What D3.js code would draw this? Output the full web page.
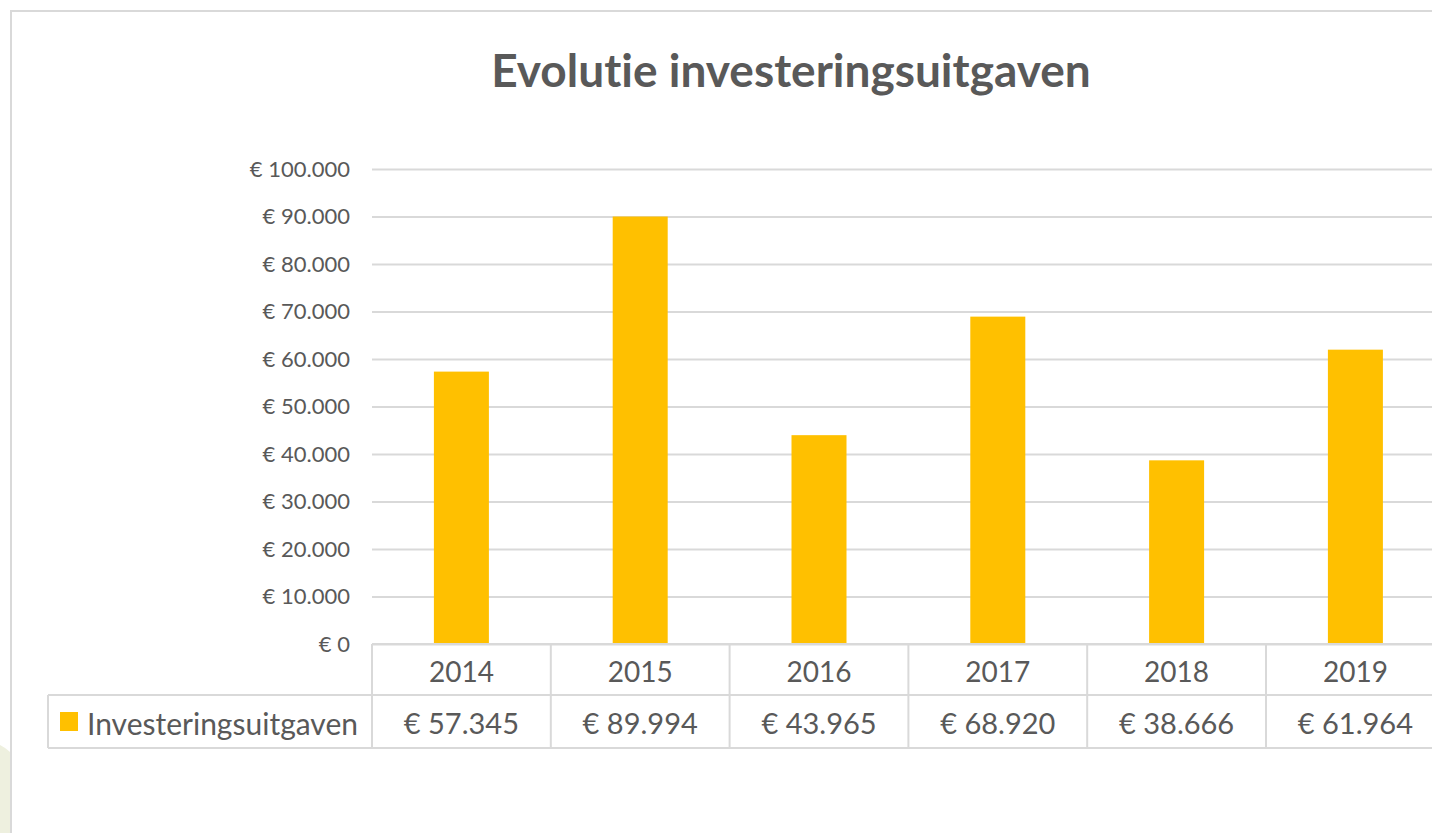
<!DOCTYPE html>
<html>
<head>
<meta charset="utf-8">
<script src="https://cdn.jsdelivr.net/npm/d3@7"></script>
<style>
  body { margin: 0; background: #fff; }
  svg { display: block; font-family: Lato, "Open Sans", sans-serif; font-variant-ligatures: none; }
</style>
</head>
<body>
<div id="chart"></div>
<script>
// data
var years = ["2014", "2015", "2016", "2017", "2018", "2019"];
var values = [57345, 89994, 43965, 68920, 38666, 61964];
var yTicks = [0, 10000, 20000, 30000, 40000, 50000, 60000, 70000, 80000, 90000, 100000];
var seriesName = "Investeringsuitgaven";
var title = "Evolutie investeringsuitgaven";

var W = 1432, H = 833;
var textColor = "#595959", gridColor = "#d9d9d9", barColor = "#ffc000";

var nl = d3.formatLocale({ decimal: ",", thousands: ".", grouping: [3], currency: ["€ ", ""] });
var euro = nl.format("$,.0f");

var svg = d3.select("#chart")
  .append("svg")
    .attr("width", W)
    .attr("height", H);

// bit of background decoration at the bottom left
svg.append("path")
  .attr("d", "M0,745 Q6,748 10,752 L10,833 L0,833 Z")
  .attr("fill", "#eef0df");

// chart frame
svg.append("rect")
  .attr("x", 11).attr("y", 11)
  .attr("width", W + 20).attr("height", H + 20)
  .attr("fill", "#fff")
  .attr("stroke", gridColor)
  .attr("stroke-width", 2);

// scales
var colW = 178.8;
var x = d3.scaleBand()
  .domain(years)
  .range([372, 372 + colW * years.length])
  .paddingInner(0)
  .paddingOuter(0);

var y = d3.scaleLinear()
  .domain([0, 100000])
  .range([644, 169]);

// title
svg.append("text")
  .attr("x", 791)
  .attr("y", 87)
  .attr("text-anchor", "middle")
  .style("font-size", "46px")
  .style("font-weight", "bold")
  .style("fill", textColor)
  .text(title);

// gridlines
svg.append("g")
  .attr("transform", "translate(372,0)")
  .call(d3.axisRight(y).tickValues(yTicks).tickSize(W).tickFormat(""))
  .call(function (g) { g.select(".domain").remove(); })
  .selectAll("line")
    .attr("stroke", gridColor)
    .attr("stroke-width", 2);

// y labels
svg.append("g")
  .attr("transform", "translate(350,0)")
  .call(d3.axisLeft(y).tickValues(yTicks).tickSize(0).tickPadding(0).tickFormat(euro))
  .call(function (g) { g.select(".domain").remove(); })
  .selectAll("text")
    .style("font-family", "Lato, sans-serif")
    .style("font-size", "22px")
    .style("fill", textColor);

// bars
var barW = 55;
svg.append("g")
  .selectAll("rect")
  .data(values)
  .enter()
  .append("rect")
    .attr("x", function (d, i) { return x(years[i]) + x.bandwidth() / 2 - barW / 2; })
    .attr("y", function (d) { return y(d); })
    .attr("width", barW)
    .attr("height", function (d) { return y(0) - y(d); })
    .attr("fill", barColor);

// data table under the axis
var rowTop = 644, rowMid = 695, rowBot = 748, legendLeft = 48;
var table = svg.append("g")
  .attr("stroke", gridColor)
  .attr("stroke-width", 2);

table.append("line").attr("x1", 372).attr("x2", W).attr("y1", rowTop).attr("y2", rowTop);
table.append("line").attr("x1", legendLeft).attr("x2", W).attr("y1", rowMid).attr("y2", rowMid);
table.append("line").attr("x1", legendLeft).attr("x2", W).attr("y1", rowBot).attr("y2", rowBot);
table.append("line").attr("x1", legendLeft).attr("x2", legendLeft).attr("y1", rowMid).attr("y2", rowBot);
table.selectAll(".vline")
  .data(years)
  .enter()
  .append("line")
    .attr("x1", function (d) { return x(d); })
    .attr("x2", function (d) { return x(d); })
    .attr("y1", rowTop)
    .attr("y2", rowBot);

svg.append("g")
  .selectAll("text")
  .data(years)
  .enter()
  .append("text")
    .attr("x", function (d) { return x(d) + x.bandwidth() / 2; })
    .attr("y", (rowTop + rowMid) / 2 + 1)
    .attr("text-anchor", "middle")
    .attr("dominant-baseline", "central")
    .style("font-size", "28px")
    .style("fill", textColor)
    .text(function (d) { return d; });

svg.append("g")
  .selectAll("text")
  .data(values)
  .enter()
  .append("text")
    .attr("x", function (d, i) { return x(years[i]) + x.bandwidth() / 2; })
    .attr("y", (rowMid + rowBot) / 2 + 1)
    .attr("text-anchor", "middle")
    .attr("dominant-baseline", "central")
    .style("font-size", "29px")
    .style("fill", textColor)
    .text(function (d) { return euro(d); });

// legend key in the table
svg.append("rect")
  .attr("x", 60).attr("y", 712)
  .attr("width", 18).attr("height", 19)
  .attr("fill", barColor);

svg.append("text")
  .attr("x", 87)
  .attr("y", (rowMid + rowBot) / 2 + 1)
  .attr("dominant-baseline", "central")
  .style("font-size", "30px")
  .style("fill", textColor)
  .text(seriesName);
</script>
</body>
</html>
